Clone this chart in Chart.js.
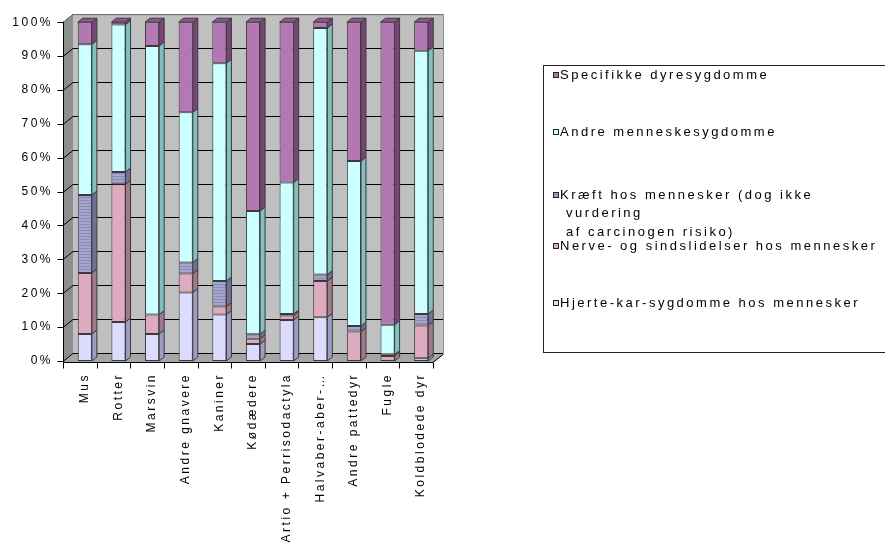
<!DOCTYPE html>
<html lang="da">
<head>
<meta charset="utf-8">
<title>Forsøgsdyr fordelt på sygdomsområde</title>
<script src="https://cdn.jsdelivr.net/npm/chart.js@4.4.1/dist/chart.umd.min.js"></script>
<style>
html, body { margin: 0; padding: 0; background: #fff; }
#wrap { position: relative; width: 885px; height: 545px; }
</style>
</head>
<body>
<div id="wrap"><canvas id="chart" width="885" height="545"></canvas></div>
<script>
// Animal groups (x categories)
const categories = ['Mus', 'Rotter', 'Marsvin', 'Andre gnavere', 'Kaniner', 'Kødædere',
  'Artio + Perrisodactyla', 'Halvaber-aber-…', 'Andre pattedyr', 'Fugle', 'Koldblodede dyr'];

// Share of animals per disease area, in percent (stacked bottom to top)
const hjerteKar      = [8.0, 11.5, 8.0, 20.2, 13.7, 5.0, 12.1, 12.9, 0.0, 0.0, 0.8];
const nerveSind      = [18.0, 40.7, 5.7, 5.6, 2.4, 1.6, 1.3, 10.7, 8.7, 1.5, 9.7];
const kraeft         = [23.0, 3.6, 0.0, 3.3, 7.5, 1.3, 0.5, 1.9, 1.6, 0.4, 3.4];
const andreMenneske  = [44.5, 43.5, 79.3, 44.3, 64.3, 36.4, 38.8, 72.8, 48.7, 8.8, 77.7];
const specifikkeDyr  = [6.5, 0.7, 7.0, 26.6, 12.1, 55.7, 47.3, 1.7, 41.0, 89.3, 8.4];

// Series names
const seriesNames = [
  'Hjerte-kar-sygdomme hos mennesker',
  'Nerve- og sindslidelser hos mennesker',
  'Kræft hos mennesker (dog ikke\n vurdering\n af carcinogen risiko)',
  'Andre menneskesygdomme',
  'Specifikke dyresygdomme'
];

// Value axis tick labels
const yTickLabels = ['0%', '10%', '20%', '30%', '40%', '50%', '60%', '70%', '80%', '90%', '100%'];

const FONT = '"Liberation Sans", Arial, sans-serif';
const SPACING = '2.5px';
const WALL = { dx: 10, dy: -8 };   // depth of the plot box
const DEPTH = { dx: 5, dy: -4 };   // depth of each column

// Horizontal hatch used for the cancer series
function hatch() {
  const c = document.createElement('canvas');
  c.width = 4; c.height = 3;
  const g = c.getContext('2d');
  g.fillStyle = '#a4a4cf'; g.fillRect(0, 0, 4, 3);
  g.fillStyle = '#8a8ab6'; g.fillRect(0, 2, 4, 1);
  return document.getElementById('chart').getContext('2d').createPattern(c, 'repeat');
}

const styles = [
  { front: '#dcdcff', side: '#9c9cc4', top: '#b8b8e0' },
  { front: '#ddaabf', side: '#a07a8a', top: '#c090a4' },
  { front: hatch(),   side: '#70709a', top: '#8080aa' },
  { front: '#ccffff', side: '#80c0c0', top: '#a0dada' },
  { front: '#b377b3', side: '#7a457a', top: '#8e568e' }
];
const seriesData = [hjerteKar, nerveSind, kraeft, andreMenneske, specifikkeDyr];

function poly(ctx, pts, fill, stroke) {
  ctx.beginPath();
  ctx.moveTo(pts[0][0], pts[0][1]);
  for (let i = 1; i < pts.length; i++) ctx.lineTo(pts[i][0], pts[i][1]);
  ctx.closePath();
  if (fill) { ctx.fillStyle = fill; ctx.fill(); }
  if (stroke) { ctx.strokeStyle = stroke; ctx.lineWidth = 1; ctx.stroke(); }
}

function spacing(chart) { chart.ctx.letterSpacing = SPACING; }

const scene3d = {
  id: 'scene3d',
  beforeUpdate: spacing,
  beforeLayout: spacing,
  beforeDraw: spacing,
  beforeDatasetsDraw(chart) {
    const { ctx, chartArea: a, scales: { y } } = chart;
    const L = a.left - 5, R = a.right - 5, T = a.top, B = a.bottom + 1;
    const bl = L + WALL.dx, br = R + WALL.dx, bt = T + WALL.dy, bb = B + WALL.dy;
    ctx.save();
    // back wall, side wall and floor
    ctx.fillStyle = '#c0c0c0';
    ctx.fillRect(bl, bt, br - bl, bb - bt);
    poly(ctx, [[L, T], [bl, bt], [bl, bb], [L, B]], '#8e8e8e');
    poly(ctx, [[L, B], [R, B], [br, bb], [bl, bb]], '#a6a6a6');
    // gridlines on side and back wall
    ctx.strokeStyle = '#000';
    ctx.lineWidth = 1;
    y.ticks.forEach(t => {
      const py = Math.round(y.getPixelForValue(t.value)) + 0.5;
      ctx.beginPath();
      ctx.moveTo(L, py);
      ctx.lineTo(bl, py + WALL.dy);
      ctx.lineTo(br, py + WALL.dy);
      ctx.stroke();
    });
    // outer edges of the box
    ctx.strokeStyle = '#8a8a8a';
    ctx.beginPath();
    ctx.moveTo(L, T + 0.5); ctx.lineTo(bl, bt + 0.5); ctx.lineTo(br + 0.5, bt + 0.5);
    ctx.lineTo(br + 0.5, bb); ctx.lineTo(R, B);
    ctx.stroke();
    ctx.restore();
  },
  afterDatasetsDraw(chart) {
    const { ctx, chartArea: a, scales: { x, y } } = chart;
    ctx.save();
    ctx.lineWidth = 1;
    const tops = new Array(categories.length).fill(-1);
    chart.data.datasets.forEach((ds, d) => {
      const meta = chart.getDatasetMeta(d);
      meta.data.forEach((el, i) => {
        const p = el.getProps(['x', 'y', 'base', 'width'], true);
        if (ds.data[i] > 0) tops[i] = d;
        if (Math.abs(p.base - p.y) < 0.5) return;
        const xr = p.x + p.width / 2;
        poly(ctx, [[xr, p.y], [xr + DEPTH.dx, p.y + DEPTH.dy], [xr + DEPTH.dx, p.base + DEPTH.dy], [xr, p.base]],
          styles[d].side, '#3a3a3a');
      });
    });
    // top face of every column
    tops.forEach((d, i) => {
      if (d < 0) return;
      const p = chart.getDatasetMeta(d).data[i].getProps(['x', 'y', 'width'], true);
      const xl = p.x - p.width / 2, xr = p.x + p.width / 2;
      poly(ctx, [[xl, p.y], [xl + DEPTH.dx, p.y + DEPTH.dy], [xr + DEPTH.dx, p.y + DEPTH.dy], [xr, p.y]],
        styles[d].top, '#3a3a3a');
    });
    // value axis and category axis in front
    const L = a.left - 5 + 0.5, R = a.right - 5, B = a.bottom + 1 + 0.5;
    ctx.strokeStyle = '#000';
    ctx.beginPath();
    ctx.moveTo(L, a.top); ctx.lineTo(L, B);
    y.ticks.forEach(t => {
      const py = Math.round(y.getPixelForValue(t.value)) + 0.5;
      ctx.moveTo(L - 6, py); ctx.lineTo(L, py);
    });
    ctx.moveTo(L, B); ctx.lineTo(R, B); ctx.lineTo(R + WALL.dx, B + WALL.dy);
    const step = (a.right - a.left) / categories.length;
    for (let i = 0; i <= categories.length; i++) {
      const px = Math.round(a.left + i * step - 5) + 0.5;
      ctx.moveTo(px, B); ctx.lineTo(px, B + 6);
    }
    ctx.stroke();
    ctx.restore();
  },
  afterDraw(chart) {
    const { ctx } = chart;
    ctx.save();
    ctx.letterSpacing = SPACING;
    // legend frame
    ctx.strokeStyle = '#222';
    ctx.lineWidth = 1;
    ctx.strokeRect(543.5, 65.5, 360, 287);
    ctx.font = '13px ' + FONT;
    ctx.textBaseline = 'middle';
    ctx.textAlign = 'left';
    const order = chart.data.datasets.map((ds, d) => d).reverse();
    order.forEach((d, k) => {
      const lines = chart.data.datasets[d].label.split('\n');
      const y0 = 75 + k * 57 + (lines.length > 1 ? 6 : 0);
      ctx.fillStyle = styles[d].front;
      ctx.fillRect(553, Math.round(y0) - 3, 6, 6);
      ctx.strokeStyle = '#222';
      ctx.strokeRect(553.5, Math.round(y0) - 2.5, 5, 5);
      ctx.fillStyle = '#000';
      lines.forEach((ln, j) => ctx.fillText(ln, 560, y0 + j * 18.5));
    });
    ctx.restore();
  }
};

const chart = new Chart(document.getElementById('chart'), {
  type: 'bar',
  data: {
    labels: categories,
    datasets: seriesData.map((values, d) => ({
      label: seriesNames[d],
      data: values,
      backgroundColor: styles[d].front,
      borderColor: '#3a3a3a',
      borderWidth: 1,
      borderSkipped: false,
      categoryPercentage: 1,
      barPercentage: 0.42
    }))
  },
  options: {
    responsive: false,
    animation: false,
    devicePixelRatio: 1,
    layout: { padding: { left: 0, top: 17, right: 447, bottom: 0 } },
    plugins: { legend: { display: false }, tooltip: { enabled: false } },
    scales: {
      x: {
        stacked: true,
        grid: { display: false, drawTicks: false },
        border: { display: false },
        ticks: {
          autoSkip: false, minRotation: 90, maxRotation: 90, padding: 12,
          color: '#000', font: { family: FONT, size: 12 }
        },
        afterFit(s) { s.height = 184; }
      },
      y: {
        stacked: true, min: 0, max: 100,
        grid: { display: false, drawTicks: false },
        border: { display: false },
        ticks: {
          stepSize: 10, padding: 15, color: '#000', font: { family: FONT, size: 12 },
          callback: v => yTickLabels[Math.round(v / 10)]
        },
        afterFit(s) { s.width = 68; }
      }
    }
  },
  plugins: [scene3d]
});
</script>
</body>
</html>
